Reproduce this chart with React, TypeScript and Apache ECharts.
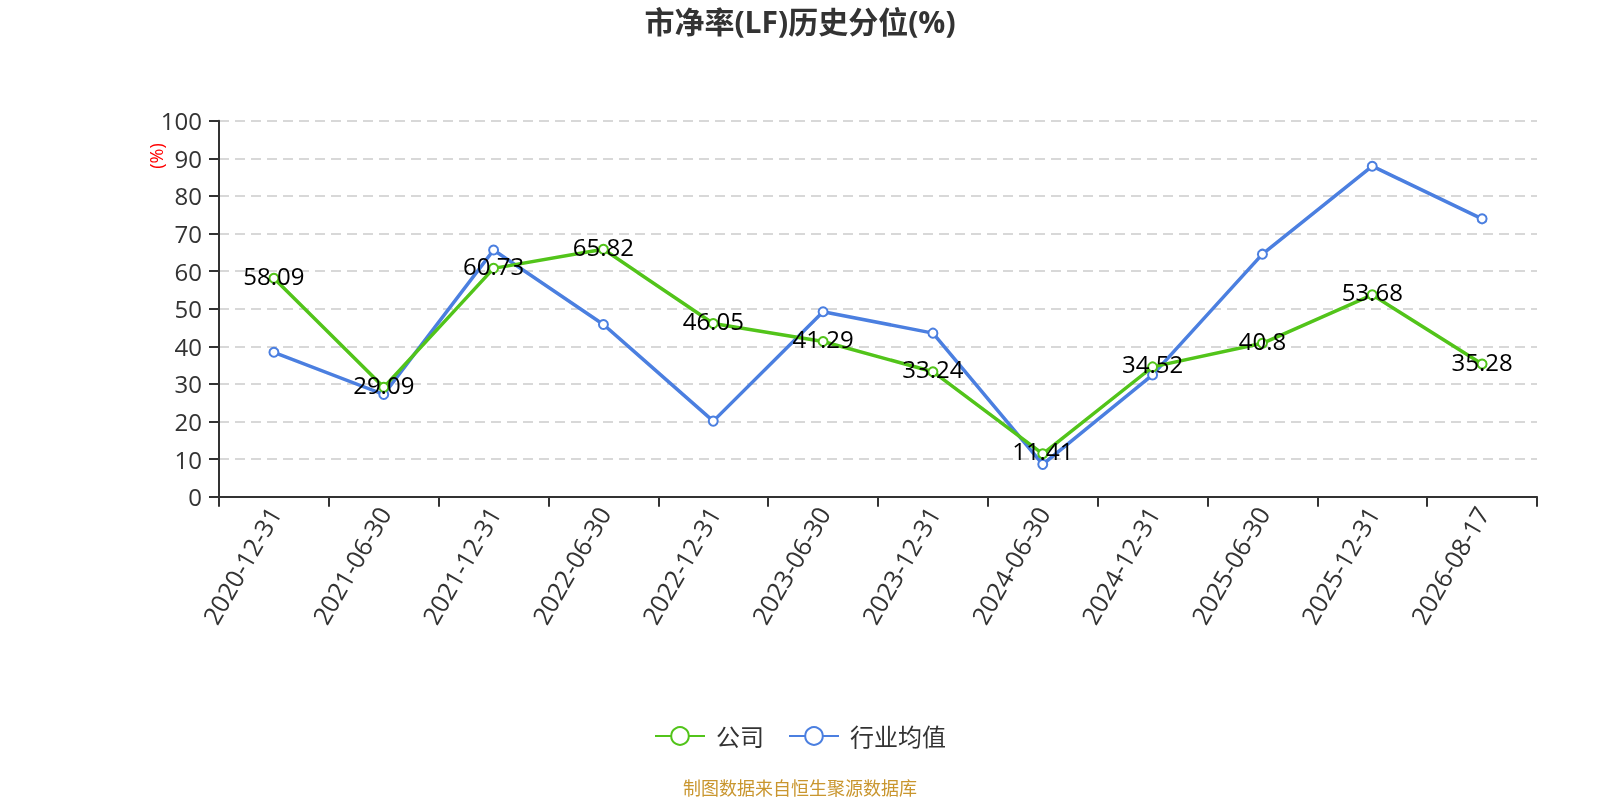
import React, { useEffect, useRef } from "react";
import * as echarts from "echarts";

const categories = [
  "2020-12-31", "2021-06-30", "2021-12-31", "2022-06-30", "2022-12-31", "2023-06-30",
  "2023-12-31", "2024-06-30", "2024-12-31", "2025-06-30", "2025-12-31", "2026-08-17",
];
const companyValues = [58.09, 29.09, 60.73, 65.82, 46.05, 41.29, 33.24, 11.41, 34.52, 40.8, 53.68, 35.28];
const industryValues = [38.4, 27.2, 65.6, 45.8, 20.1, 49.2, 43.5, 8.6, 32.4, 64.5, 87.9, 73.9];
const yTicks = { min: 0, max: 100, interval: 10 };

const FONT = "'Open Sans', 'Noto Sans CJK SC', sans-serif";

export default function App() {
  const ref = useRef<HTMLDivElement>(null);
  useEffect(() => {
    if (!ref.current) return;
    const chart = echarts.init(ref.current, undefined, { renderer: "svg" });
    chart.setOption({
      animation: false,
      textStyle: { fontFamily: FONT },
      title: {
        text: "市净率(LF)历史分位(%)",
        left: "center",
        top: 6,
        padding: 0,
        textStyle: { fontSize: 30, fontWeight: "bold", color: "#333", fontFamily: FONT },
      },
      legend: {
        bottom: 47,
        left: "center",
        itemWidth: 50,
        itemHeight: 22,
        itemGap: 24,
        textStyle: { fontSize: 24, color: "#333", padding: [0, 0, 0, 6], fontFamily: FONT },
        data: ["公司", "行业均值"],
      },
      grid: { left: 219, right: 63, top: 120.7, bottom: 303.3, containLabel: false },
      xAxis: {
        type: "category",
        data: categories,
        boundaryGap: true,
        axisLine: { lineStyle: { color: "#333", width: 2 } },
        axisTick: { show: true, length: 10, lineStyle: { color: "#333", width: 2 } },
        axisLabel: { rotate: 60, fontSize: 25, color: "#333", margin: 12, interval: 0, fontFamily: FONT },
        splitLine: { show: false },
      },
      yAxis: {
        type: "value",
        min: yTicks.min,
        max: yTicks.max,
        interval: yTicks.interval,
        axisLine: { show: true, lineStyle: { color: "#333", width: 2 } },
        axisTick: { show: true, length: 10, lineStyle: { color: "#333", width: 2 } },
        axisLabel: { fontSize: 24, color: "#333", margin: 17, fontFamily: FONT },
        splitLine: { show: true, lineStyle: { color: "#ccc", width: 1.5, type: [10, 6] } },
      },
      graphic: [
        {
          type: "text",
          x: 156,
          y: 156,
          rotation: Math.PI / 2,
          style: {
            text: "(%)",
            fill: "#ff0000",
            fontSize: 18,
            fontFamily: FONT,
            textAlign: "center",
            textVerticalAlign: "middle",
          },
        },
        {
          type: "text",
          x: 800,
          y: 788,
          style: {
            text: "制图数据来自恒生聚源数据库",
            fill: "#c9962f",
            fontSize: 18,
            fontFamily: FONT,
            textAlign: "center",
            textVerticalAlign: "middle",
          },
        },
      ],
      series: [
        {
          name: "公司",
          type: "line",
          data: companyValues,
          symbol: "emptyCircle",
          symbolSize: 9,
          color: "#52c41a",
          lineStyle: { width: 3.5, color: "#52c41a" },
          itemStyle: { color: "#52c41a", borderWidth: 2 },
          label: { show: true, position: "inside", offset: [0, -3], fontSize: 24, color: "#000", fontFamily: FONT },
          z: 3,
        },
        {
          name: "行业均值",
          type: "line",
          data: industryValues,
          symbol: "emptyCircle",
          symbolSize: 9,
          color: "#4b7fe0",
          lineStyle: { width: 3.5, color: "#4b7fe0" },
          itemStyle: { color: "#4b7fe0", borderWidth: 2 },
          label: { show: false },
          z: 2,
        },
      ],
    });
    return () => chart.dispose();
  }, []);
  return (
    <div
      ref={ref}
      style={{ position: "fixed", left: 0, top: 0, width: 1600, height: 800 }}
    />
  );
}
